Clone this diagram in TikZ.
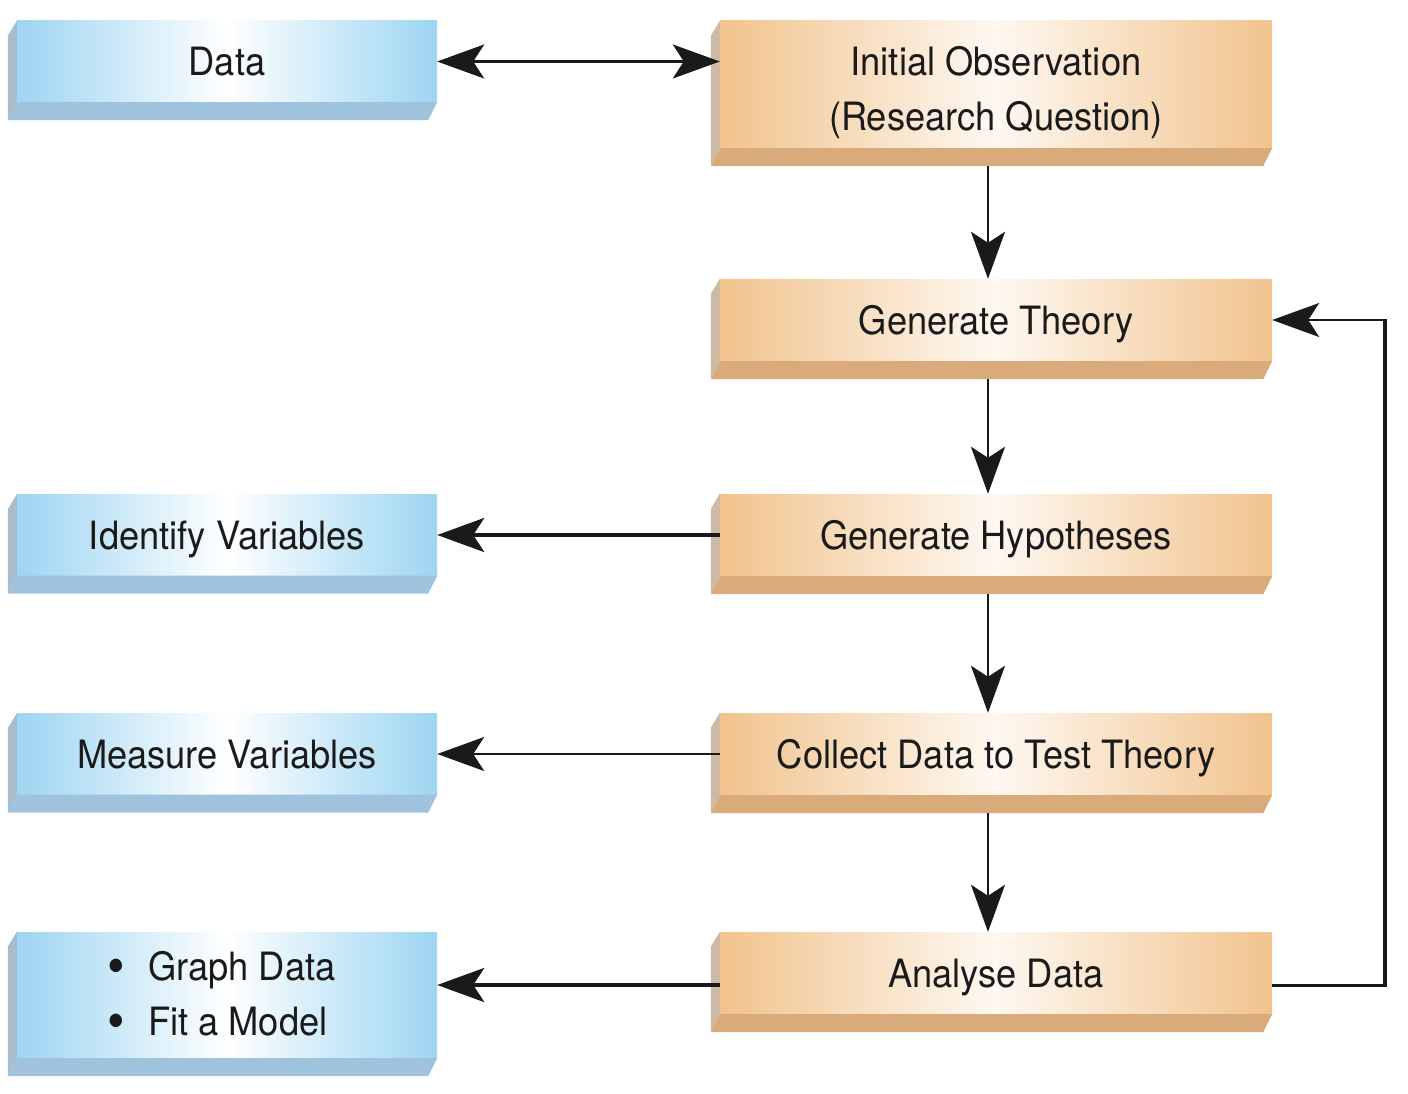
\documentclass[tikz,border=0pt]{standalone}
\usepackage{fontspec}
\setmainfont[FakeStretch=0.93]{TeX Gyre Heros}
\usetikzlibrary{arrows.meta,calc}
\definecolor{bedge}{HTML}{9DD5F2}
\definecolor{bside}{HTML}{A9BCCB}
\definecolor{bbottom}{HTML}{9FC3DC}
\definecolor{oedge}{HTML}{F1C38D}
\definecolor{ocenter}{HTML}{FEF8F1}
\definecolor{oside}{HTML}{CDBAA4}
\definecolor{obottom}{HTML}{D9AB7B}
\definecolor{ink}{HTML}{1A1A1A}
\newcommand\slabsides[3]{%
  \fill[#2] (#1.north west) -- ++(-9,15) -- ($(#1.south west)+(-9,18)$) -- (#1.south west) -- cycle;
  \fill[#3] (#1.south west) -- ($(#1.south west)+(-9,18)$) -- ($(#1.south east)+(-9,18)$) -- (#1.south east) -- cycle;}
\newcommand\bigbullet{\raisebox{-4pt}{\fontsize{54}{54}\selectfont\textbullet}}
\newcommand\lowerby[2]{\raisebox{-#1}[\height][\depth]{#2}}
\tikzset{
  facebase/.style={inner sep=0pt, font=\fontsize{39}{55}\selectfont, text=ink, align=center},
  oneline/.style={text height=28pt, text depth=0pt},
  bluebox/.style={facebase, minimum width=420pt, minimum height=81pt,
    left color=bedge, right color=bedge, middle color=white},
  orangebox/.style={facebase, minimum width=552pt, minimum height=82pt,
    left color=oedge, right color=oedge, middle color=ocenter},
  conn/.style={line width=2.5pt, draw=ink, -{Stealth[length=47pt,width=34pt,inset=11pt]}},
  connthick/.style={conn, line width=4pt},
  connthin/.style={conn, line width=2pt},
}
\begin{document}
\begin{tikzpicture}[x=1pt,y=-1pt]
\useasboundingbox (0,0) rectangle (1408,1094);
% nodes
\node[bluebox, oneline] (data) at (227,61.5) {Data};
\node[orangebox, minimum height=127pt] (init) at (996,84.5)
  {\lowerby{8pt}{\begin{tabular}{@{}c@{}}Initial Observation\\(Research Question)\end{tabular}}};
\node[orangebox, oneline] (theory) at (996,320) {Generate Theory};
\node[bluebox, oneline] (ident) at (227,535) {Identify Variables};
\node[orangebox, oneline] (hyp) at (996,535) {Generate Hypotheses};
\node[bluebox, oneline] (meas) at (227,754) {Measure Variables};
\node[orangebox, oneline] (coll) at (996,754) {Collect Data to Test Theory};
\node[bluebox, minimum height=126pt] (graph) at (227,995)
  {\lowerby{1.5pt}{\begin{tabular}{@{}l@{\hspace{11pt}}}\bigbullet\hspace{23pt}Graph Data\\\bigbullet\hspace{23pt}Fit a Model\end{tabular}}};
\node[orangebox, oneline] (ana) at (996,973) {Analyse Data};
% slab sides
\slabsides{data}{bside}{bbottom}
\slabsides{ident}{bside}{bbottom}
\slabsides{meas}{bside}{bbottom}
\slabsides{graph}{bside}{bbottom}
\slabsides{init}{oside}{obottom}
\slabsides{theory}{oside}{obottom}
\slabsides{hyp}{oside}{obottom}
\slabsides{coll}{oside}{obottom}
\slabsides{ana}{oside}{obottom}
% connectors
\draw[conn, {Stealth[length=47pt,width=34pt,inset=11pt]}-{Stealth[length=47pt,width=34pt,inset=11pt]}]
  (data.east) -- (data.east -| init.west);
\draw[conn] ($(init.south)+(-8,18)$) -- ($(theory.north)+(-8,0)$);
\draw[conn] ($(theory.south)+(-8,18)$) -- ($(hyp.north)+(-8,0)$);
\draw[conn] ($(hyp.south)+(-8,18)$) -- ($(coll.north)+(-8,0)$);
\draw[conn] ($(coll.south)+(-8,18)$) -- ($(ana.north)+(-8,0)$);
\draw[connthick] (hyp.west) -- (ident.east);
\draw[connthin] (coll.west) -- (meas.east);
\coordinate (aw) at ($(ana.west)+(0,12)$);
\draw[connthick] (aw) -- (aw -| graph.east);
\coordinate (ae) at ($(ana.east)+(0,12)$);
\coordinate (fb) at ($(ae)+(113,0)$);
\draw[line width=3pt, draw=ink] (ae) -- (fb);
\draw[line width=4.5pt, draw=ink] ($(fb)+(0,1.5)$) -- (fb |- theory.east);
\draw[conn] ($(fb |- theory.east)+(2.25,0)$) -- (theory.east);
\end{tikzpicture}
\end{document}
